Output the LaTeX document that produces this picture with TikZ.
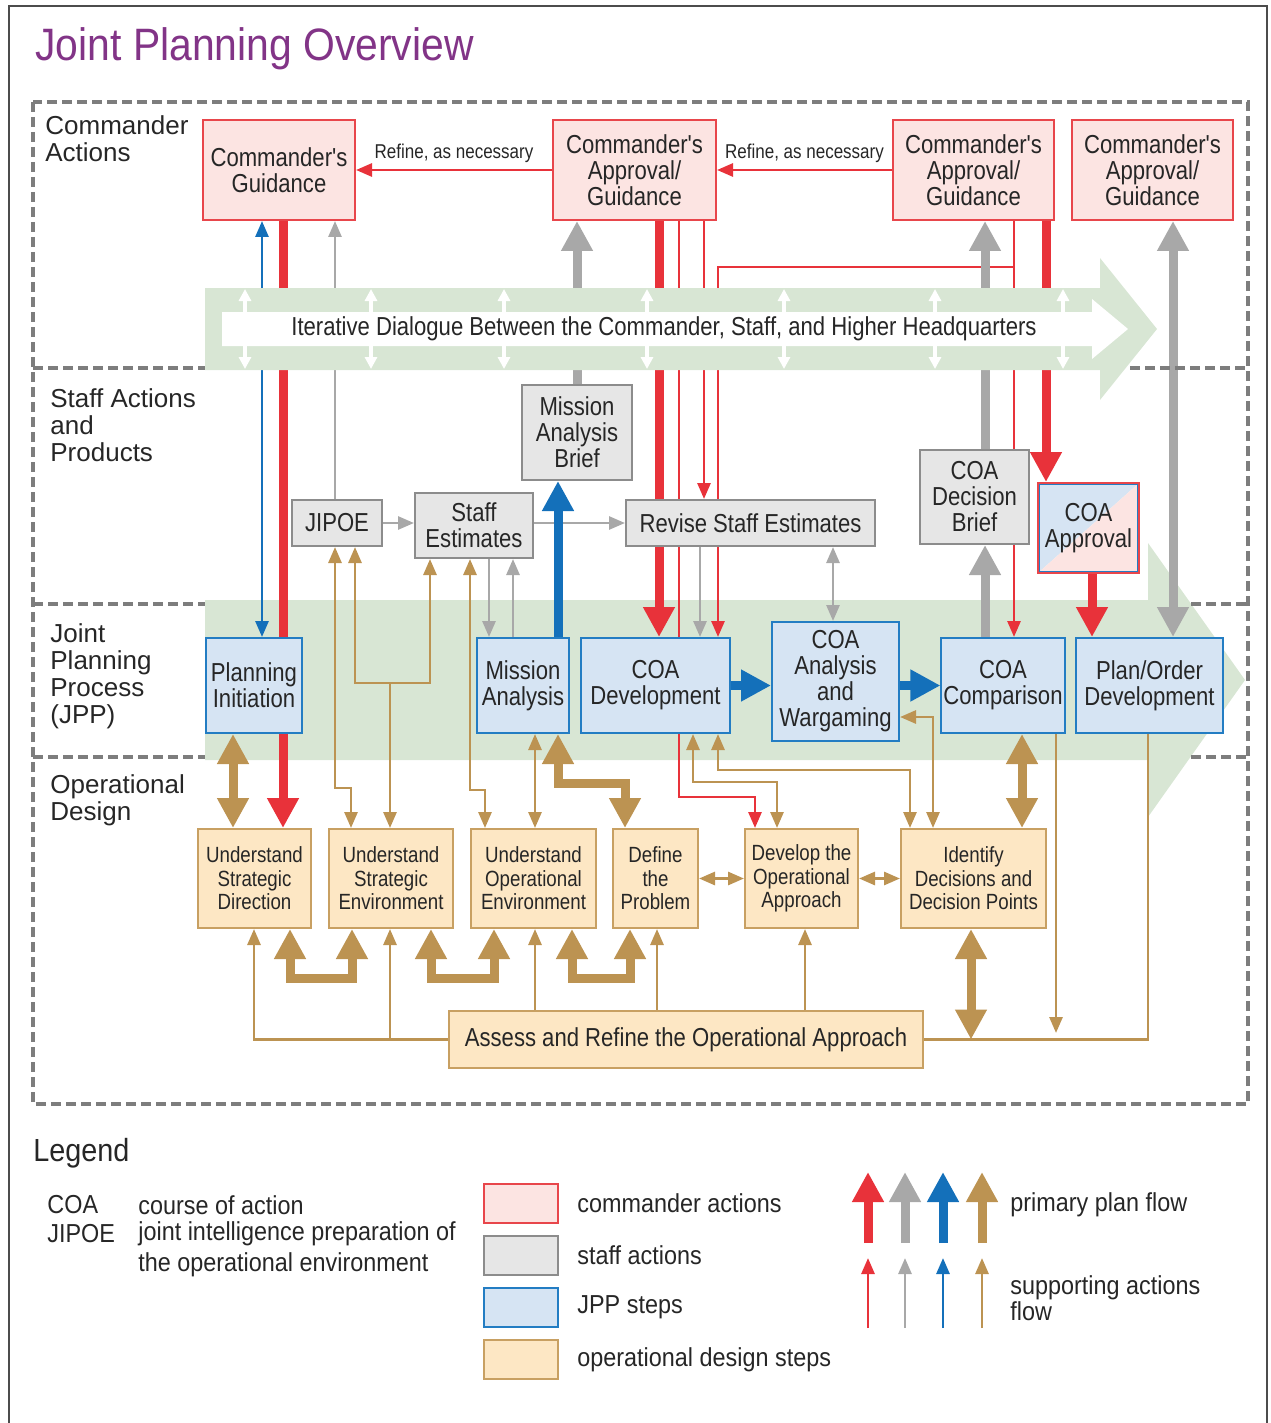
\documentclass[tikz,border=0pt]{standalone}
\usepackage{fontspec}
\setmainfont{Liberation Sans}
\newfontfamily\narrowfont[FakeStretch=0.85]{Liberation Sans}
\newfontfamily\legfont[FakeStretch=0.9]{Liberation Sans}
\usepackage{xcolor}
\usetikzlibrary{arrows.meta}

\definecolor{cred}{RGB}{232,50,58}
\definecolor{cmdfill}{RGB}{252,228,226}
\definecolor{cmdline}{RGB}{232,70,75}
\definecolor{cgray}{RGB}{168,168,168}
\definecolor{stafffill}{RGB}{230,230,230}
\definecolor{staffline}{RGB}{140,140,140}
\definecolor{cblue}{RGB}{20,112,186}
\definecolor{jppfill}{RGB}{214,228,243}
\definecolor{jppline}{RGB}{35,125,195}
\definecolor{ctan}{RGB}{188,147,82}
\definecolor{opdfill}{RGB}{253,231,196}
\definecolor{opdline}{RGB}{200,160,98}
\definecolor{bandgreen}{RGB}{216,230,212}
\definecolor{titlepurple}{RGB}{130,52,135}
\definecolor{dashgray}{RGB}{125,125,125}

\pgfdeclarelayer{back}
\pgfdeclarelayer{lines}
\pgfdeclarelayer{band}
\pgfsetlayers{back,lines,band,main}

\tikzset{
  Bigtip/.tip={Triangle[width=15pt,length=15pt]},
  Smltip/.tip={Triangle[width=6.5pt,length=8pt]},
  Wtip/.tip={Triangle[width=6pt,length=6pt]},
  nbox/.style={draw, line width=1pt, align=center, inner sep=1pt, text=black!85,
    font=\narrowfont\fontsize{13}{13}\selectfont},
  cmd/.style={nbox, draw=cmdline, fill=cmdfill, minimum height=50pt},
  staff/.style={nbox, draw=staffline, fill=stafffill},
  jpp/.style={nbox, draw=jppline, fill=jppfill, minimum height=47.5pt},
  opd/.style={nbox, draw=opdline, fill=opdfill, minimum height=49.5pt,
    font=\narrowfont\fontsize{11}{11.75}\selectfont},
  prim/.style={line width=4.5pt},
  supp/.style={line width=1.4pt},
  lane/.style={anchor=west, align=left, inner sep=0, text=black!85,
    font=\fontsize{13}{13.5}\selectfont},
  legtxt/.style={anchor=west, align=left, inner sep=0, text=black!85,
    font=\legfont\fontsize{13}{11.5}\selectfont},
  refine/.style={inner sep=0, text=black!85, font=\narrowfont\fontsize{10}{10}\selectfont},
  dsh/.style={dashgray, line width=1.8pt, dash pattern=on 5pt off 2.5pt},
}

\begin{document}
\begin{tikzpicture}[x=0.5pt,y=-0.5pt]
\useasboundingbox (0,0) rectangle (1270,1423);
\draw[line width=1pt, black!70] (9,1430) -- (9,6) -- (1267,6) -- (1267,1430);
\node[anchor=base west, inner sep=0, text=titlepurple,
  font=\legfont\fontsize{22.7}{22.7}\selectfont] (title) at (35,61) {Joint Planning Overview};

% lanes
\draw[dsh] (33,102) rectangle (1248,1104);
\foreach \yy/\xa in {368/1130,604/1191,757/1191}{
  \draw[dsh] (33,\yy) -- (205,\yy);
  \draw[dsh] (\xa,\yy) -- (1248,\yy);
}
\node[lane] (laneA) at (45,138.5) {Commander\\Actions};
\node[lane] (laneB) at (50,425) {Staff Actions\\and\\Products};
\node[lane] (laneC) at (50,676.5) {Joint\\Planning\\Process\\(JPP)};
\node[lane] (laneD) at (50,800) {Operational\\Design};

% commander actions
\node[cmd, minimum width=76pt] (CG) at (279,170) {Commander's\\Guidance};
\node[cmd, minimum width=81.5pt] (CAG1) at (634.5,170) {Commander's\\Approval/\\Guidance};
\node[cmd, minimum width=80.5pt] (CAG2) at (973.5,170) {Commander's\\Approval/\\Guidance};
\node[cmd, minimum width=80.5pt] (CAG3) at (1152.5,170) {Commander's\\Approval/\\Guidance};

% staff actions and products
\node[staff, minimum width=45pt, minimum height=23pt] (JIPOE) at (337,523) {JIPOE};
\node[staff, minimum width=59pt, minimum height=32.5pt] (SE) at (474,525.5) {Staff\\Estimates};
\node[staff, minimum width=55pt, minimum height=47.5pt] (MAB) at (577,432.5) {Mission\\Analysis\\Brief};
\node[staff, minimum width=124.5pt, minimum height=23pt] (RSE) at (750.5,523) {Revise Staff Estimates};
\node[staff, minimum width=54.5pt, minimum height=47pt] (CDB) at (974.5,497) {COA\\Decision\\Brief};
\node[nbox, draw=cmdline, minimum width=50.5pt, minimum height=45pt,
  path picture={
    \fill[jppfill] (path picture bounding box.north west) -- (path picture bounding box.north east)
      -- (path picture bounding box.south west) -- cycle;
    \fill[cmdfill] (path picture bounding box.north east) -- (path picture bounding box.south east)
      -- (path picture bounding box.south west) -- cycle;}] (CAPP) at (1088.5,528) {COA\\Approval};
\draw[jppline, line width=0.8pt] ([shift={(1.3pt,-1.3pt)}]CAPP.north west) rectangle ([shift={(-1.3pt,1.3pt)}]CAPP.south east);

% JPP steps
\node[jpp, minimum width=48pt] (PI) at (254,685.5) {Planning\\Initiation};
\node[jpp, minimum width=46pt] (MA) at (523,685.5) {Mission\\Analysis};
\node[jpp, minimum width=74.5pt] (CD) at (655.5,685.5) {COA\\Development};
\node[jpp, minimum width=63.5pt, minimum height=59.5pt] (CAW) at (835.5,681.5) {COA\\Analysis\\and\\Wargaming};
\node[jpp, minimum width=61pt] (CC) at (1003,685.5) {COA\\Comparison};
\node[jpp, minimum width=73.5pt] (POD) at (1149.5,685.5) {Plan/Order\\Development};

% operational design steps
\node[opd, minimum width=56.5pt] (USD) at (254.5,878.5) {Understand\\Strategic\\Direction};
\node[opd, minimum width=62pt] (USE) at (391,878.5) {Understand\\Strategic\\Environment};
\node[opd, minimum width=62.5pt] (UOE) at (533.5,878.5) {Understand\\Operational\\Environment};
\node[opd, minimum width=42.5pt] (DTP) at (655.5,878.5) {Define\\the\\Problem};
\node[opd, minimum width=56.5pt] (DOA) at (801.5,878.5) {Develop the\\Operational\\Approach};
\node[opd, minimum width=72.5pt] (IDDP) at (973.5,878.5) {Identify\\Decisions and\\Decision Points};
\node[opd, minimum width=237pt, minimum height=28.5pt, font=\narrowfont\fontsize{13}{13}\selectfont] (ARO) at (686,1039.5) {Assess and Refine the Operational Approach};

\begin{pgfonlayer}{back}
\fill[bandgreen] (205,600) -- (1148,600) -- (1148,543) -- (1245,680) -- (1148,817) -- (1148,760) -- (205,760) -- cycle;
\end{pgfonlayer}

\begin{pgfonlayer}{band}
\fill[bandgreen] (205,288) -- (1100,288) -- (1100,258) -- (1157,329) -- (1100,400) -- (1100,370) -- (205,370) -- cycle;
\fill[white] (222,312) -- (1092,312) -- (1092,299) -- (1128,329) -- (1092,359) -- (1092,346) -- (222,346) -- cycle;
\foreach \xx in {245,371,504,647,784,935,1063}
  \draw[white, line width=1.6pt, Wtip-Wtip] (\xx,289) -- (\xx,369);
\node[inner sep=0, text=black!85, font=\narrowfont\fontsize{13}{13}\selectfont] (dialog) at (664,329)
  {Iterative Dialogue Between the Commander, Staff, and Higher Headquarters};
\end{pgfonlayer}

\begin{pgfonlayer}{lines}
% supporting flow, commander and staff
\draw[supp,cred,-Smltip] (CAG1.west) -- node[above=3pt,refine]{Refine, as necessary} (CG.east);
\draw[supp,cred,-Smltip] (CAG2.west) -- node[above=3pt,refine]{Refine, as necessary} (CAG1.east);
\draw[supp,cred,-Smltip] (704,0 |- CAG1.south) -- (704,0 |- RSE.north);
\draw[supp,cred,-Smltip] (679,0 |- CAG1.south) -- (679,797) -- (755,797) -- (755,0 |- DOA.north);
\draw[supp,cred,-Smltip] (1014,0 |- CAG2.south) -- (1014,0 |- CC.north);
\draw[supp,cred,-Smltip] (1014,267) -- (718,267) -- (718,0 |- CD.north);
\draw[supp,cgray,-Smltip] (JIPOE.east) -- (JIPOE.east -| SE.west);
\draw[supp,cgray,-Smltip] (RSE.west -| SE.east) -- (RSE.west);
\draw[supp,cgray,-Smltip] (489,0 |- SE.south) -- (489,0 |- MA.north);
\draw[supp,cgray,-Smltip] (513,0 |- MA.north) -- (513,0 |- SE.south);
\draw[supp,cgray,-Smltip] (335,0 |- JIPOE.north) -- (335,0 |- CG.south);
\draw[supp,cgray,-Smltip] (700,0 |- RSE.south) -- (700,0 |- CD.north);
\draw[supp,cgray,Smltip-Smltip] (833,0 |- RSE.south) -- (833,0 |- CAW.north);
\draw[supp,cblue,Smltip-Smltip] (262,0 |- PI.north) -- (262,0 |- CG.south);
% primary flow
\draw[prim,cred,-Bigtip] (283,0 |- CG.south) -- (283,0 |- USD.north);
\draw[prim,cred,-Bigtip] (659,0 |- CAG1.south) -- (659,0 |- CD.north);
\draw[prim,cgray,-Bigtip] (577,0 |- MAB.north) -- (577,0 |- CAG1.south);
\draw[prim,cblue,-Bigtip] (558,0 |- MA.north) -- (558,0 |- MAB.south);
\draw[prim,cgray,-Bigtip] (985,0 |- CDB.north) -- (985,0 |- CAG2.south);
\draw[prim,cgray,-Bigtip] (985,0 |- CC.north) -- (985,0 |- CDB.south);
\draw[prim,cred,-Bigtip] (1046,0 |- CAG2.south) -- (1046,0 |- CAPP.north);
\draw[prim,cred,-Bigtip] (1092,0 |- CAPP.south) -- (1092,0 |- POD.north);
\draw[prim,cgray,Bigtip-Bigtip] (1173,0 |- CAG3.south) -- (1173,0 |- POD.north);
\draw[prim,cblue,-Bigtip] (CD.east) -- (CD.east -| CAW.west);
\draw[prim,cblue,-Bigtip] (CC.west -| CAW.east) -- (CC.west);
% operational design
\draw[prim,ctan,Bigtip-Bigtip] (233,0 |- PI.south) -- (233,0 |- USD.north);
\draw[prim,ctan,Bigtip-Bigtip] (558,0 |- MA.south) -- (558,783) -- (625,783) -- (625,0 |- DTP.north);
\draw[prim,ctan,Bigtip-Bigtip] (1022,0 |- CC.south) -- (1022,0 |- IDDP.north);
\draw[prim,ctan,Bigtip-Bigtip] (971,0 |- IDDP.south) -- (971,0 |- ARO.east);
\draw[prim,ctan,Bigtip-Bigtip] (290,0 |- USD.south) -- (290,978) -- (352,978) -- (352,0 |- USE.south);
\draw[prim,ctan,Bigtip-Bigtip] (431,0 |- USE.south) -- (431,978) -- (494,978) -- (494,0 |- UOE.south);
\draw[prim,ctan,Bigtip-Bigtip] (572,0 |- UOE.south) -- (572,978) -- (630,978) -- (630,0 |- DTP.south);
\draw[supp,ctan,Smltip-Smltip] (335,0 |- JIPOE.south) -- (335,788) -- (351,788) -- (351,0 |- USE.north);
\draw[supp,ctan,Smltip-Smltip] (355,0 |- JIPOE.south) -- (355,683) -- (430,683) -- (430,0 |- SE.south);
\draw[supp,ctan,-Smltip] (390,683) -- (390,0 |- USE.north);
\draw[supp,ctan,Smltip-Smltip] (470,0 |- SE.south) -- (470,790) -- (485,790) -- (485,0 |- UOE.north);
\draw[supp,ctan,Smltip-Smltip] (535,0 |- MA.south) -- (535,0 |- UOE.north);
\draw[supp,ctan,Smltip-Smltip] (693,0 |- CD.south) -- (693,782) -- (777,782) -- (777,0 |- DOA.north);
\draw[supp,ctan,Smltip-Smltip] (718,0 |- CD.south) -- (718,770) -- (910,770) -- (910,0 |- IDDP.north);
\draw[supp,ctan,Smltip-Smltip] (CAW.east |- 0,717) -- (933,717) -- (933,0 |- IDDP.north);
\draw[supp,ctan,Smltip-Smltip] (DTP.east) -- (DOA.west);
\draw[supp,ctan,Smltip-Smltip] (DOA.east) -- (IDDP.west);
\draw[supp,ctan,-Smltip] (1056,0 |- CC.south) -- (1056,1033);
\draw[supp,ctan] (1148,0 |- POD.south) -- (1148,0 |- ARO.east) -- (ARO.east);
\draw[supp,ctan,-Smltip] (ARO.west) -- (254,0 |- ARO.west) -- (254,0 |- USD.south);
\draw[supp,ctan,-Smltip] (390,0 |- ARO.west) -- (390,0 |- USE.south);
\draw[supp,ctan,-Smltip] (535,0 |- ARO.north) -- (535,0 |- UOE.south);
\draw[supp,ctan,-Smltip] (657,0 |- ARO.north) -- (657,0 |- DTP.south);
\draw[supp,ctan,-Smltip] (805,0 |- ARO.north) -- (805,0 |- DOA.south);
\end{pgfonlayer}

% legend
\node[anchor=west, inner sep=0, text=black!85, font=\legfont\fontsize{16}{16}\selectfont] (legtitle) at (33,1153) {Legend};
\node[legtxt] (abbA) at (47,1205) {COA};
\node[legtxt] (abbB) at (47,1234) {JIPOE};
\node[legtxt] (defA) at (138,1205) {course of action};
\node[legtxt] (defB) at (138,1234) {joint intelligence preparation of};
\node[legtxt] (defC) at (138,1265) {the operational environment};
\foreach \nm/\st/\yy/\lab in {lc/cmd/1203.5/commander actions, ls/staff/1255.5/staff actions,
    lj/jpp/1307.5/JPP steps, lo/opd/1359.5/operational design steps}{
  \node[\st, minimum width=37pt, minimum height=19.5pt, line width=1.3pt] (\nm) at (521,\yy) {};
  \node[legtxt] (\nm-t) at (577,\yy) {\lab};
}
\foreach \xx/\cc in {868/cred,905/cgray,943/cblue,982/ctan}{
  \draw[prim,\cc,-Bigtip] (\xx,1243) -- (\xx,1172);
  \draw[supp,\cc,-Smltip] (\xx,1328) -- (\xx,1258);
}
\node[legtxt] (lprim) at (1010,1205) {primary plan flow};
\node[legtxt] (lsupp) at (1010,1298) {supporting actions\\flow};
\end{tikzpicture}
\end{document}
